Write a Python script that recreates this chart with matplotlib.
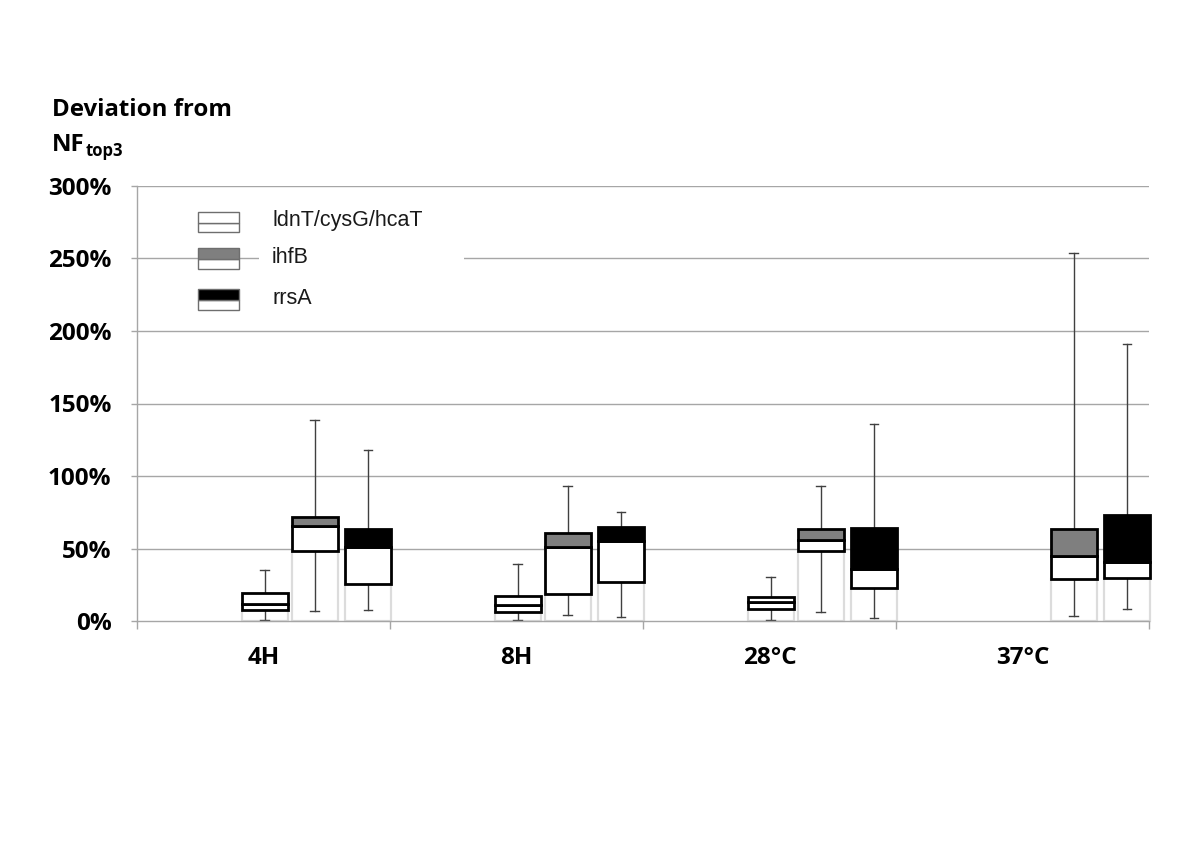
import numpy as np
import matplotlib
matplotlib.use("Agg")
import matplotlib.pyplot as plt
from matplotlib.patches import Rectangle
from matplotlib.ticker import FuncFormatter, FixedLocator

categories = ['4H', '8H', '28°C', '37°C']
series_names = ['ldnT/cysG/hcaT', 'ihfB', 'rrsA']
series_colors = ['#ffffff', '#7f7f7f', '#000000']

# values in percent (nan = no data)
ldnt_min = [0.7, 0.5, 0.5, np.nan]
ldnt_q1 = [7.6, 6.4, 8.0, np.nan]
ldnt_med = [11.5, 10.8, 13.3, np.nan]
ldnt_q3 = [19.3, 17.5, 16.8, np.nan]
ldnt_max = [35.2, 39.3, 30.1, np.nan]

ihfb_min = [6.9, 4.4, 6.2, 3.2]
ihfb_q1 = [48.0, 18.9, 48.5, 29.2]
ihfb_med = [65.5, 51.0, 55.9, 45.0]
ihfb_q3 = [71.5, 60.5, 63.2, 63.7]
ihfb_max = [138.6, 92.9, 93.3, 253.6]

rrsa_min = [7.4, 2.5, 1.9, 8.1]
rrsa_q1 = [25.7, 26.7, 23.0, 29.9]
rrsa_med = [51.0, 55.0, 35.6, 40.5]
rrsa_q3 = [63.4, 64.8, 64.1, 72.9]
rrsa_max = [118.2, 75.4, 136.1, 191.0]

yticks = [0, 50, 100, 150, 200, 250, 300]

series = [
    (ldnt_min, ldnt_q1, ldnt_med, ldnt_q3, ldnt_max),
    (ihfb_min, ihfb_q1, ihfb_med, ihfb_q3, ihfb_max),
    (rrsa_min, rrsa_q1, rrsa_med, rrsa_q3, rrsa_max),
]

offsets = [0.505, 0.702, 0.913]
bw = 0.182
capw = 0.034

fig = plt.figure(figsize=(12, 8.49), dpi=100)
ax = fig.add_axes([137/1200, 1 - 621/849, (1149-137)/1200, (621-186)/849])
ax.set_xlim(0, len(categories))
ax.set_ylim(0, 300)

grid_c = '#a6a6a6'
for y in yticks[1:]:
    ax.axhline(y, color=grid_c, lw=1.0, zorder=0)

for s_idx, (mn, q1, md, q3, mx) in enumerate(series):
    col = series_colors[s_idx]
    for c in range(len(categories)):
        if np.isnan(q1[c]):
            continue
        xc = c + offsets[s_idx]
        x0 = xc - bw/2
        # faint base bar (0 to Q1)
        ax.add_patch(Rectangle((x0, 0.3), bw, q1[c]-0.3, facecolor='white',
                               edgecolor='#dcdcdc', lw=1.6, zorder=1, clip_on=False))
        # whiskers
        kw = dict(color='#404040', lw=1.0, zorder=2, clip_on=False)
        ax.plot([xc, xc], [mn[c], q1[c]], **kw)
        ax.plot([xc, xc], [q3[c], mx[c]], **kw)
        ax.plot([xc-capw/2, xc+capw/2], [mn[c], mn[c]], **kw)
        ax.plot([xc-capw/2, xc+capw/2], [mx[c], mx[c]], **kw)
        # lower box (Q1-median)
        ax.add_patch(Rectangle((x0, q1[c]), bw, md[c]-q1[c], facecolor='white',
                               edgecolor='black', lw=2.0, zorder=3, clip_on=False))
        # upper box (median-Q3)
        ax.add_patch(Rectangle((x0, md[c]), bw, q3[c]-md[c], facecolor=col,
                               edgecolor='black', lw=2.0, zorder=3, clip_on=False))

# spines
for sp in ['top', 'right']:
    ax.spines[sp].set_visible(False)
ax.spines['left'].set_color(grid_c)
ax.spines['bottom'].set_color(grid_c)
ax.spines['left'].set_linewidth(1.0)
ax.spines['bottom'].set_linewidth(1.0)

tick_font = dict(family='Open Sans', weight='bold', size=17.5)
ax.set_yticks(yticks)
ax.yaxis.set_major_formatter(FuncFormatter(lambda v, p: f'{v:.0f}%'))
ax.tick_params(axis='y', length=4.3, color=grid_c, width=1.0, pad=14)
for lab in ax.get_yticklabels():
    lab.set_fontproperties(matplotlib.font_manager.FontProperties(**tick_font))

ax.xaxis.set_major_locator(FixedLocator(np.arange(len(categories)+1)))
ax.xaxis.set_major_formatter(FuncFormatter(lambda v, p: ''))
ax.xaxis.set_minor_locator(FixedLocator(np.arange(len(categories)) + 0.5))
ax.set_xticklabels(categories, minor=True)
ax.tick_params(axis='x', which='major', length=6, color=grid_c, width=1.0, direction='out')
ax.tick_params(axis='x', which='minor', length=0, pad=18)
for lab in ax.get_xticklabels(minor=True):
    lab.set_fontproperties(matplotlib.font_manager.FontProperties(**tick_font))

# white area behind legend text (covers gridline)
def px2data(px, py):
    return ax.transData.inverted().transform(fig.transFigure.transform((px/1200, 1 - py/849)))
(lx0, ly0) = px2data(259, 320)
(lx1, ly1) = px2data(464, 200)
ax.add_patch(Rectangle((lx0, ly0), lx1-lx0, ly1-ly0, facecolor='white', edgecolor='none', zorder=1.5))

# legend patches (figure coords)
leg_rows = [(211.7, 222.7, 232.3), (248.3, 259.3, 269.3), (289.3, 300.0, 310.0)]
for (top, mid, bot), col in zip(leg_rows, series_colors):
    fig.patches.append(Rectangle((198/1200, 1 - bot/849), 41/1200, (bot-mid)/849,
                                 transform=fig.transFigure, facecolor='white',
                                 edgecolor='#6e6e6e', lw=1.0, figure=fig, zorder=5))
    fig.patches.append(Rectangle((198/1200, 1 - mid/849), 41/1200, (mid-top)/849,
                                 transform=fig.transFigure, facecolor=col,
                                 edgecolor='#6e6e6e', lw=1.0, figure=fig, zorder=5))
for name, (top, mid, bot) in zip(series_names, leg_rows):
    fig.text(272/1200, 1 - (mid - 2)/849, name, family='Liberation Sans', size=15.5,
             va='center', ha='left', color='#1a1a1a')

# y-axis title
title_font = dict(family='Open Sans', weight='bold', size=17.3)
fig.text(52/1200, 1 - 110.5/849, 'Deviation from', va='center', ha='left', **title_font)
nf = fig.text(52/1200, 1 - 145/849, 'NF', va='center', ha='left', **title_font)
ax.annotate('top3', xy=(1.0, 0.0), xycoords=nf, xytext=(1, -2), textcoords='offset points',
            va='bottom', ha='left', family='Open Sans', weight='bold', size=12)

fig.savefig('out.png', dpi=100, facecolor='white')
